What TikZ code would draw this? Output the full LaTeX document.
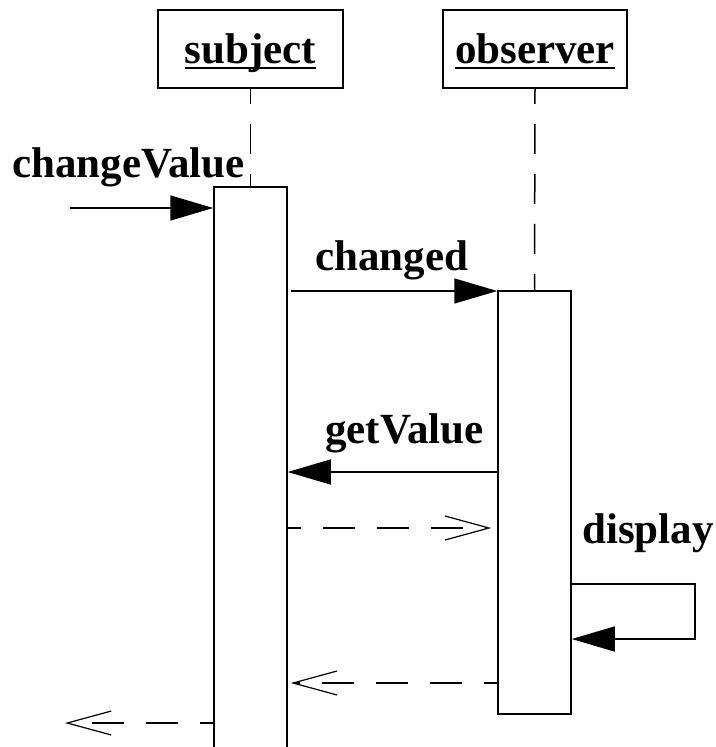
\documentclass[tikz,border=0pt]{standalone}
\usepackage{fontspec}
\setmainfont{Liberation Serif}
\usetikzlibrary{arrows.meta}
\tikzset{
  lbl/.style={inner sep=0pt, font=\fontsize{43}{50}\selectfont\bfseries},
  objbox/.style={draw, line width=1.5pt, minimum width=#1, minimum height=78pt, inner sep=0pt},
  actbox/.style={draw, line width=1.5pt, fill=white, minimum width=73pt, inner sep=0pt},
  life/.style={line width=1.5pt, dash pattern=on 30pt off 20pt, dash phase=15pt},
  msg/.style={line width=1.5pt, -{Triangle[length=43pt,width=25pt]}},
  ret/.style={line width=1.5pt, dash pattern=on 32pt off 22pt, dash phase=19pt,
              -{Straight Barb[length=44pt,width=24pt,line width=1.2pt]}},
  uline/.style={line width=2pt}
}
\begin{document}
\begin{tikzpicture}[x=1pt,y=-1pt]
\useasboundingbox (0,0) rectangle (715,747);
\clip (0,0) rectangle (715,747);

% objects
\node[objbox=185pt] (subjbox) at (250.5,49) {};
\node[objbox=184pt] (obsbox) at (535,49) {};
\node[lbl, anchor=base] (subjtxt) at (250.5,63) {subject};
\node[lbl, anchor=base] (obstxt) at (535,63) {observer};
\draw[uline] ([yshift=-5pt]subjtxt.base west) -- ([yshift=-5pt]subjtxt.base east);
\draw[uline] ([yshift=-5pt]obstxt.base west) -- ([yshift=-5pt]obstxt.base east);

% activations
\node[actbox, minimum height=620pt, anchor=north] (sa) at (250.5,186) {};
\node[actbox, minimum height=423pt, anchor=north] (oa) at (534.5,290) {};

% lifelines
\draw[life] (subjbox.south) -- (sa.north);
\draw[life] (obsbox.south) -- (oa.north);

% free ends
\coordinate (cvstart) at (70,208);
\coordinate (retend) at (65,723);
\coordinate (dispcorner) at (695,584);

% messages
\draw[msg] (cvstart) -- (sa.west |- cvstart);
\node[lbl, anchor=base west] (cvlbl) at (12,177) {changeValue};

\draw[msg] ([xshift=3pt]sa.east |- 0,291) -- (oa.west |- 0,291);
\node[lbl, anchor=base west] (chlbl) at (315,270) {changed};

\draw[msg] (oa.west |- 0,472) -- (sa.east |- 0,472);
\node[lbl, anchor=base west] (gvlbl) at (325,443) {getValue};

\draw[ret, shorten >=6pt] (sa.east |- 0,528) -- (oa.west |- 0,528);

\draw[msg] (oa.east |- dispcorner) -- (dispcorner) |- (oa.east |- 0,639);
\node[lbl, anchor=base west] (dplbl) at (582,543) {display};

\draw[ret, shorten >=3pt] (oa.west |- 0,683) -- (sa.east |- 0,683);

\draw[ret] (sa.west |- retend) -- (retend);
\end{tikzpicture}
\end{document}
